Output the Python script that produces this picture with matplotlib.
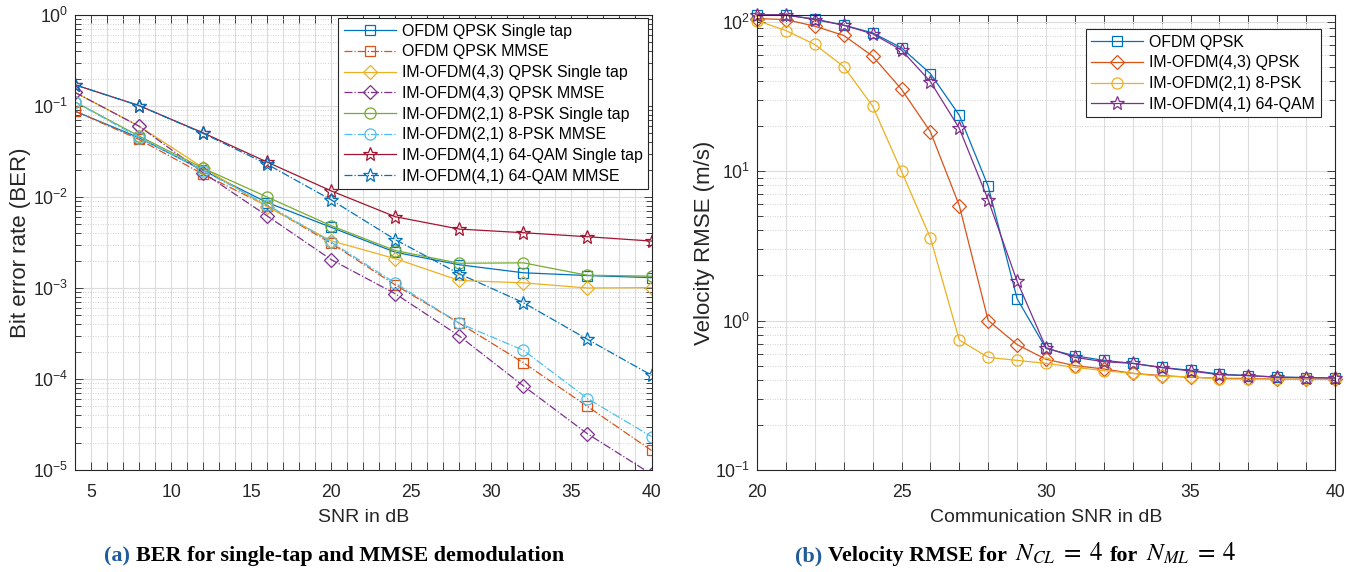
import matplotlib
matplotlib.use('Agg')
import matplotlib.pyplot as plt
from matplotlib.ticker import MultipleLocator, LogLocator, NullFormatter
import numpy as np

plt.rcParams['font.family'] = ['Liberation Sans', 'DejaVu Sans']
plt.rcParams['mathtext.fontset'] = 'custom'
plt.rcParams['mathtext.rm'] = 'Liberation Sans'
plt.rcParams['mathtext.it'] = 'Liberation Sans:italic'
plt.rcParams['mathtext.bf'] = 'Liberation Sans:bold'

# ---------------- data: (a) BER ----------------
snr_a = [4, 8, 12, 16, 20, 24, 28, 32, 36, 40]
ber_ofdm_st = [0.0875, 0.0448, 0.0196, 0.0087, 0.00464, 0.00247, 0.00180, 0.00147, 0.00137, 0.00130]
ber_ofdm_mmse = [0.088, 0.0429, 0.0178, 0.0080, 0.0031, 0.00108, 0.00041, 0.000151, 5.0e-5, 1.64e-5]
ber_im43_st = [0.141, 0.060, 0.021, 0.0078, 0.0033, 0.0021, 0.00121, 0.00114, 0.00100, 0.00101]
ber_im43_mmse = [0.141, 0.060, 0.0185, 0.0062, 0.00205, 0.000865, 0.000297, 8.4e-5, 2.5e-5, 9e-6]
ber_im21_st = [0.111, 0.0467, 0.0207, 0.0100, 0.00483, 0.00258, 0.00187, 0.00189, 0.00138, 0.00135]
ber_im21_mmse = [0.111, 0.045, 0.0195, 0.0082, 0.0032, 0.00113, 0.00041, 0.000207, 6.1e-5, 2.33e-5]
ber_im41_st = [0.171, 0.101, 0.0507, 0.0242, 0.01167, 0.00607, 0.00444, 0.00405, 0.00366, 0.00328]
ber_im41_mmse = [0.171, 0.101, 0.050, 0.0229, 0.0093, 0.0034, 0.00143, 0.00069, 0.000273, 0.00011]

labels_a = ['OFDM QPSK Single tap', 'OFDM QPSK MMSE',
            'IM-OFDM(4,3) QPSK Single tap', 'IM-OFDM(4,3) QPSK MMSE',
            'IM-OFDM(2,1) 8-PSK Single tap', 'IM-OFDM(2,1) 8-PSK MMSE',
            'IM-OFDM(4,1) 64-QAM Single tap', 'IM-OFDM(4,1) 64-QAM MMSE']

# ---------------- data: (b) velocity RMSE ----------------
snr_b = list(range(20, 41))
rmse_ofdm = [110, 110, 104, 94.5, 84, 66.7, 44.8, 23.6, 7.9, 1.40, 0.65, 0.581, 0.541, 0.517,
             0.486, 0.464, 0.438, 0.428, 0.419, 0.415, 0.412]
rmse_im43 = [104.7, 103, 93, 80.7, 58.7, 35.2, 18.3, 5.87, 1.0, 0.69, 0.55, 0.499, 0.474, 0.443,
             0.428, 0.417, 0.41, 0.41, 0.405, 0.405, 0.405]
rmse_im21 = [101.5, 87, 70.2, 49.9, 27.2, 9.96, 3.57, 0.74, 0.567, 0.541, 0.517, 0.486, 0.462, 0.443,
             0.423, 0.421, 0.406, 0.406, 0.405, 0.405, 0.405]
rmse_im41 = [111, 111, 103, 94.5, 82.7, 64.4, 39.6, 19.3, 6.4, 1.83, 0.658, 0.567, 0.53, 0.517,
             0.484, 0.46, 0.434, 0.428, 0.417, 0.415, 0.412]
labels_b = ['OFDM QPSK', 'IM-OFDM(4,3) QPSK', 'IM-OFDM(2,1) 8-PSK', 'IM-OFDM(4,1) 64-QAM']

C_BLUE = '#0072BD'
C_ORANGE = '#D95319'
C_YELLOW = '#EDB120'
C_PURPLE = '#7E2F8E'
C_GREEN = '#77AC30'
C_CYAN = '#4DBEEE'
C_RED = '#A2142F'
AXC = '#262626'

W, H = 1359, 572
fig = plt.figure(figsize=(W / 100, H / 100), dpi=100)
axA = fig.add_axes([75 / W, 102 / H, 576.5 / W, 455 / H])
axB = fig.add_axes([757 / W, 102 / H, 578 / W, 455 / H])


def style(ax):
    ax.set_yscale('log')
    ax.xaxis.set_major_locator(MultipleLocator(5))
    ax.xaxis.set_minor_locator(MultipleLocator(1))
    ax.yaxis.set_major_locator(LogLocator(base=10, numticks=20))
    ax.yaxis.set_minor_locator(LogLocator(base=10, subs=np.arange(2, 10), numticks=20))
    ax.yaxis.set_minor_formatter(NullFormatter())
    ax.tick_params(which='both', direction='in', top=True, right=True, color=AXC,
                   labelcolor=AXC, labelsize=12.7, width=0.6)
    ax.tick_params(axis='x', which='both', length=6, pad=10)
    ax.tick_params(axis='y', which='major', length=6, pad=5)
    ax.tick_params(axis='y', which='minor', length=4)
    ax.grid(True, which='major', axis='both', color='#dcdcdc', linewidth=0.8, linestyle='-')
    ax.grid(True, which='minor', axis='x', color='#dcdcdc', linewidth=0.8, linestyle='-')
    ax.grid(True, which='minor', axis='y', color='#c4c4c4', linewidth=0.6, linestyle=(0, (1, 2)))
    ax.set_axisbelow(True)
    for sp in ax.spines.values():
        sp.set_color(AXC)
        sp.set_linewidth(0.8)


style(axA)
style(axB)

lw = 0.9
mew = 0.9
series_a = [
    (ber_ofdm_st, C_BLUE, '-', 's', 7),
    (ber_ofdm_mmse, C_ORANGE, '-.', 's', 7),
    (ber_im43_st, C_YELLOW, '-', 'D', 7),
    (ber_im43_mmse, C_PURPLE, '-.', 'D', 7),
    (ber_im21_st, C_GREEN, '-', 'o', 8),
    (ber_im21_mmse, C_CYAN, '-.', 'o', 8),
    (ber_im41_st, C_RED, '-', '*', 10),
    (ber_im41_mmse, C_BLUE, '-.', '*', 10),
]
for (vals, c, ls, mk, ms), lab in zip(series_a, labels_a):
    axA.plot(snr_a, vals, color=c, linestyle=ls, marker=mk, markersize=ms,
             markerfacecolor='none', markeredgecolor=c, markeredgewidth=mew,
             linewidth=lw, label=lab)

axA.set_xlim(4, 40)
axA.set_ylim(1e-5, 1)
axA.set_xlabel('SNR in dB', fontsize=14, color=AXC)
axA.set_ylabel('Bit error rate (BER)', fontsize=16, color=AXC)
axA.xaxis.set_label_coords(0.5, -0.085)
axA.yaxis.set_label_coords(-0.077, 0.5)

legA = axA.legend(loc='upper right', bbox_to_anchor=(1.0, 1.0), fontsize=11.4, frameon=True,
                  fancybox=False, edgecolor=AXC, framealpha=1, borderpad=0.35, labelspacing=0.36,
                  handlelength=3.3, handletextpad=0.38, borderaxespad=0.2)
legA.get_frame().set_linewidth(0.8)

series_b = [
    (rmse_ofdm, C_BLUE, 's', 7),
    (rmse_im43, C_ORANGE, 'D', 7),
    (rmse_im21, C_YELLOW, 'o', 8),
    (rmse_im41, C_PURPLE, '*', 10),
]
for (vals, c, mk, ms), lab in zip(series_b, labels_b):
    axB.plot(snr_b, vals, color=c, linestyle='-', marker=mk, markersize=ms,
             markerfacecolor='none', markeredgecolor=c, markeredgewidth=mew,
             linewidth=lw, label=lab, clip_on=False)

axB.set_xlim(20, 40)
axB.set_ylim(0.1, 10 ** 2.0435)
axB.set_xlabel('Communication SNR in dB', fontsize=14, color=AXC)
axB.set_ylabel('Velocity RMSE (m/s)', fontsize=16, color=AXC)
axB.xaxis.set_label_coords(0.5, -0.085)
axB.yaxis.set_label_coords(-0.073, 0.5)

legB = axB.legend(loc='upper right', bbox_to_anchor=(1.0, 1.0), fontsize=11.4, frameon=True,
                  fancybox=False, edgecolor=AXC, framealpha=1, borderpad=0.35, labelspacing=0.36,
                  handlelength=3.3, handletextpad=0.38, borderaxespad=0.9)
legB.get_frame().set_linewidth(0.8)

# ---------------- captions ----------------
renderer = fig.canvas.get_renderer()
cap_y = (572 - 561) / H
CAP_BLUE = '#1f5c99'
CAP_FS = 15.9


def caption(x_px, pieces):
    x = x_px
    for txt, color, fs, gap in pieces:
        t = fig.text(x / W, cap_y, txt, color=color, fontfamily='Liberation Serif',
                     fontweight='bold', fontsize=fs, ha='left', va='baseline',
                     math_fontfamily='stix')
        bb = t.get_window_extent(renderer=renderer)
        x = bb.x1 + gap


caption(104, [('(a)', CAP_BLUE, CAP_FS, 6),
              ('BER for single-tap and MMSE demodulation', 'black', CAP_FS, 0)])
caption(795, [('(b)', CAP_BLUE, CAP_FS, 6),
              ('Velocity RMSE for', 'black', CAP_FS, 8),
              (r'$N_{CL}\;=\;4$', 'black', 18, 7),
              ('for', 'black', CAP_FS, 8),
              (r'$N_{ML}\;=\;4$', 'black', 18, 0)])

fig.savefig('out.png', dpi=100)
